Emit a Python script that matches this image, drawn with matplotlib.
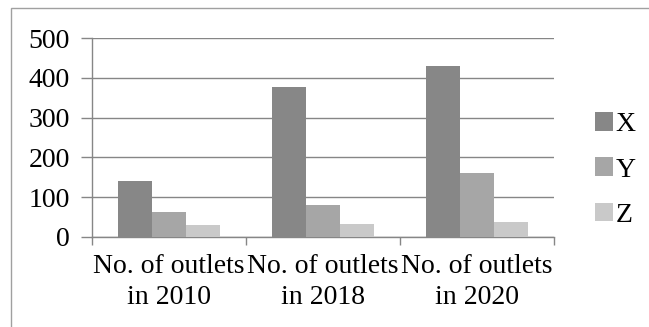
import matplotlib
matplotlib.use("Agg")
import matplotlib.pyplot as plt
import numpy as np
from matplotlib.patches import Rectangle, Patch

plt.rcParams['font.family'] = ['Liberation Serif', 'DejaVu Serif']

categories = ["No. of outlets\nin 2010", "No. of outlets\nin 2018", "No. of outlets\nin 2020"]
series_names = ["X", "Y", "Z"]
x_vals = [140, 378, 430]
y_vals = [62, 80, 160]
z_vals = [29, 32, 38]
colors = ["#878787", "#a6a6a6", "#c9c9c9"]
yticks = [0, 100, 200, 300, 400, 500]

W, H = 649, 327
FS = 20
fig = plt.figure(figsize=(W / 100, H / 100), dpi=100)
ax = fig.add_axes([92 / W, 1 - 237 / H, (554 - 92) / W, (237 - 38) / H])

pos = np.arange(len(categories))
bw = 0.22
for i, (vals, c, n) in enumerate(zip([x_vals, y_vals, z_vals], colors, series_names)):
    ax.bar(pos + (i - 1) * bw, vals, width=bw, color=c, label=n, zorder=3)

gc = "#868686"
ax.set_ylim(0, 500)
ax.set_xlim(-0.5, 2.5)
ax.set_yticks(yticks)
ax.yaxis.grid(True, color=gc, linewidth=1.0, zorder=0)
ax.set_axisbelow(True)
for s in ["top", "right"]:
    ax.spines[s].set_visible(False)
for s in ["left", "bottom"]:
    ax.spines[s].set_color(gc)
    ax.spines[s].set_linewidth(1.0)

ax.set_xticks([-0.5, 0.5, 1.5, 2.5])
ax.set_xticklabels([])
ax.set_xticks(pos, minor=True)
ax.set_xticklabels(categories, minor=True, fontsize=FS, linespacing=1.35)
ax.tick_params(axis="x", which="major", length=6, color=gc, width=1.0)
ax.tick_params(axis="x", which="minor", length=0, pad=12)
ax.tick_params(axis="y", length=8, color=gc, width=1.0, labelsize=FS, pad=8)

handles = [Patch(facecolor=c, edgecolor="none") for c in colors]
fig.legend(handles, series_names, loc="center left",
           bbox_to_anchor=(595 / W, 1 - 170 / H), frameon=False, fontsize=FS,
           handlelength=0.65, handleheight=0.65, handletextpad=0.1,
           labelspacing=0.73, borderpad=0, borderaxespad=0)

fig.patches.append(Rectangle((11 / W, -0.1), 1.0, 1 - 8 / H + 0.1,
                             transform=fig.transFigure, fill=False,
                             edgecolor="#a0a0a0", linewidth=1.0))

fig.savefig("out.png", dpi=100)
